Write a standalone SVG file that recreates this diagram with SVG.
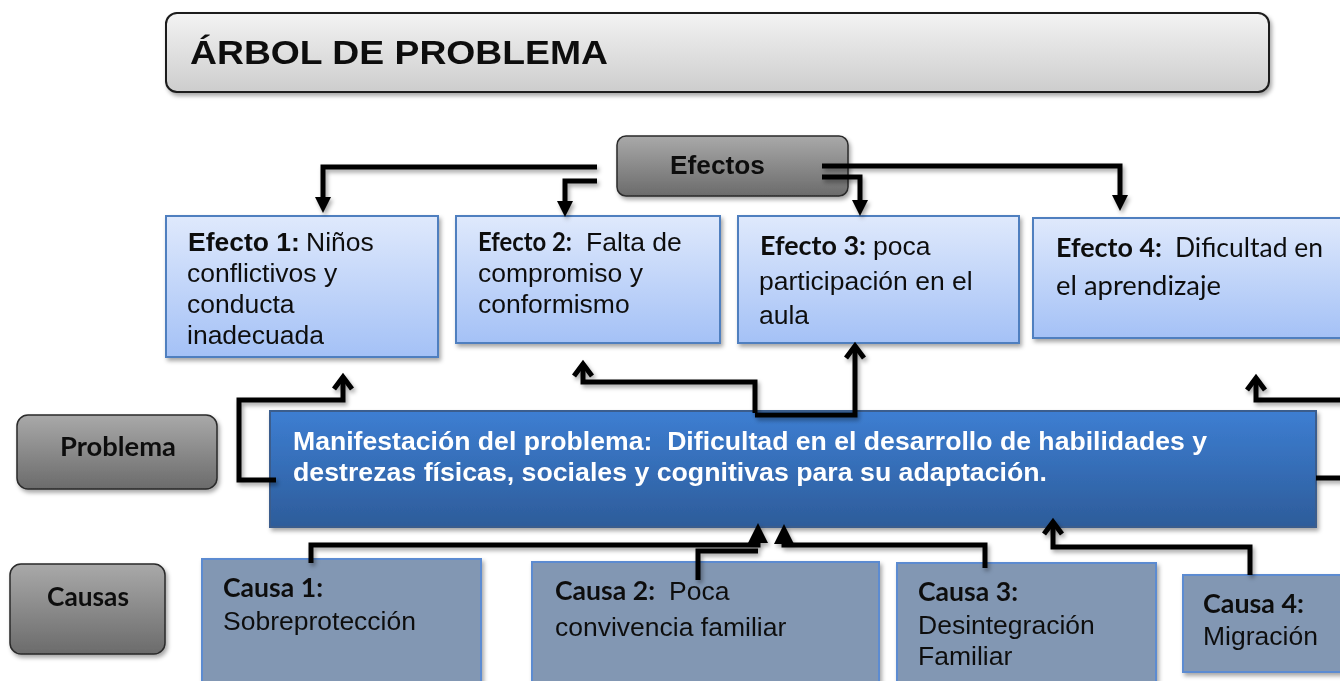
<svg xmlns="http://www.w3.org/2000/svg" width="1340" height="681" viewBox="0 0 1340 681">
<defs>
<linearGradient id="gTitle" x1="0" y1="0" x2="0" y2="1"><stop offset="0" stop-color="#f3f3f3"/><stop offset="1" stop-color="#cdcdcd"/></linearGradient>
<linearGradient id="gGray" x1="0" y1="0" x2="0" y2="1"><stop offset="0" stop-color="#a9a9a9"/><stop offset="1" stop-color="#6b6b6b"/></linearGradient>
<linearGradient id="gEff" x1="0" y1="0" x2="0" y2="1"><stop offset="0" stop-color="#dfe9fc"/><stop offset="1" stop-color="#a4c1f6"/></linearGradient>
<linearGradient id="gProb" x1="0" y1="0" x2="0" y2="1"><stop offset="0" stop-color="#3d7ed2"/><stop offset="1" stop-color="#2d5c9a"/></linearGradient>
<filter id="sh" x="-10%" y="-10%" width="130%" height="140%"><feDropShadow dx="2" dy="3" stdDeviation="2" flood-color="#000" flood-opacity="0.35"/></filter>
<marker id="aDown" markerUnits="userSpaceOnUse" viewBox="0 -10 20 20" refX="0" refY="0" markerWidth="20" markerHeight="20" orient="auto"><path d="M0,-8 L16,0 L0,8 z" fill="#000"/></marker>
<marker id="aUp" markerUnits="userSpaceOnUse" viewBox="-20 -14 28 28" refX="0" refY="0" markerWidth="28" markerHeight="28" orient="auto"><path d="M-12,-9 L0,0 L-12,9" fill="none" stroke="#000" stroke-width="5"/></marker>
<marker id="aFill" markerUnits="userSpaceOnUse" viewBox="0 -12 24 24" refX="0" refY="0" markerWidth="24" markerHeight="24" orient="auto"><path d="M0,-10 L20,0 L0,10 z" fill="#000"/></marker>
</defs>
<style>
.box{filter:url(#sh)}
.title{fill:url(#gTitle);stroke:#1a1a1a;stroke-width:2}
.gray{fill:url(#gGray);stroke:#2a2a2a;stroke-width:1.5}
.eff{fill:url(#gEff);stroke:#4f7fbf;stroke-width:2}
.prob{fill:url(#gProb);stroke:#3a5d8d;stroke-width:2}
.cause{fill:#8297b3;stroke:#5b8bd1;stroke-width:2}
.ar{font-family:"Liberation Sans",Arial,sans-serif;font-size:26.5px;fill:#111}
.ab{font-family:"Liberation Sans",Arial,sans-serif;font-weight:700;font-size:26.5px;fill:#111}
.cb{font-family:Lato,"Open Sans",sans-serif;font-weight:700;font-size:27px;fill:#111}
.cr{font-family:Lato,"Open Sans",sans-serif;font-size:26px;fill:#111}
.pt{font-family:"Liberation Sans",Arial,sans-serif;font-weight:700;font-size:25px;fill:#fff;white-space:pre}
.conn path{fill:none;stroke:#000;stroke-width:5;stroke-linejoin:miter}
</style>
<rect width="1340" height="681" fill="#fff"/>

<g id="title" class="box">
<rect class="title" x="166" y="13" width="1103" height="79" rx="11"/>
<text x="190" y="64" font-family="Liberation Sans, Arial, sans-serif" font-weight="700" font-size="34" fill="#111" textLength="418" lengthAdjust="spacingAndGlyphs">ÁRBOL DE PROBLEMA</text>
</g>

<g id="efectos" class="box">
<rect class="gray" x="617" y="136" width="231" height="60" rx="9"/>
<text x="670" y="174" font-family="Liberation Sans, Arial, sans-serif" font-weight="700" font-size="25" fill="#111" textLength="95" lengthAdjust="spacingAndGlyphs">Efectos</text>
</g>

<g id="efecto1" class="box">
<rect class="eff" x="166" y="216" width="272" height="141"/>
<text class="ab" x="188" y="251">Efecto 1:</text>
<text class="ar" x="306" y="251">Niños</text>
<text class="ar" x="187" y="282">conflictivos y</text>
<text class="ar" x="187" y="313">conducta</text>
<text class="ar" x="187" y="344">inadecuada</text>
</g>

<g id="efecto2" class="box">
<rect class="eff" x="456" y="216" width="264" height="127"/>
<text class="cb" x="478" y="251" font-size="22" textLength="94" lengthAdjust="spacingAndGlyphs">Efecto 2:</text>
<text class="ar" x="586" y="251">Falta de</text>
<text class="ar" x="478" y="282">compromiso y</text>
<text class="ar" x="478" y="313">conformismo</text>
</g>

<g id="efecto3" class="box">
<rect class="eff" x="738" y="216" width="281" height="127"/>
<text class="cb" x="760" y="255" textLength="106" lengthAdjust="spacingAndGlyphs">Efecto 3:</text>
<text class="ar" x="873" y="255">poca</text>
<text class="ar" x="759" y="290">participación en el</text>
<text class="ar" x="759" y="324">aula</text>
</g>

<g id="efecto4" class="box">
<rect class="eff" x="1033" y="218" width="320" height="120"/>
<text class="cb" x="1056" y="257" textLength="106" lengthAdjust="spacingAndGlyphs">Efecto 4:</text>
<text class="cr" x="1175" y="257" textLength="148" lengthAdjust="spacingAndGlyphs">Dificultad en</text>
<text class="cr" x="1056" y="295" textLength="165" lengthAdjust="spacingAndGlyphs">el aprendizaje</text>
</g>

<g id="problema-label" class="box">
<rect class="gray" x="17" y="415" width="200" height="74" rx="11"/>
<text class="cb" x="60" y="456" font-size="25" textLength="116" lengthAdjust="spacingAndGlyphs">Problema</text>
</g>

<g id="problema" class="box">
<rect class="prob" x="270" y="411" width="1046" height="116"/>
<text class="pt" x="293" y="450" textLength="914" lengthAdjust="spacingAndGlyphs">Manifestación del problema:  Dificultad en el desarrollo de habilidades y</text>
<text class="pt" x="293" y="481" textLength="754" lengthAdjust="spacingAndGlyphs">destrezas físicas, sociales y cognitivas para su adaptación.</text>
</g>

<g id="causas-label" class="box">
<rect class="gray" x="10" y="564" width="155" height="90" rx="11"/>
<text class="cb" x="47" y="606" font-size="25" textLength="82" lengthAdjust="spacingAndGlyphs">Causas</text>
</g>

<g id="causa1" class="box">
<rect class="cause" x="202" y="559" width="279" height="130"/>
<text class="cb" x="223" y="597" textLength="100" lengthAdjust="spacingAndGlyphs">Causa 1:</text>
<text class="ar" x="223" y="630">Sobreprotección</text>
</g>

<g id="causa2" class="box">
<rect class="cause" x="532" y="562" width="347" height="127"/>
<text class="cb" x="555" y="600" textLength="100" lengthAdjust="spacingAndGlyphs">Causa 2:</text>
<text class="ar" x="669" y="600">Poca</text>
<text class="ar" x="555" y="636">convivencia familiar</text>
</g>

<g id="causa3" class="box">
<rect class="cause" x="897" y="563" width="259" height="126"/>
<text class="cb" x="918" y="601" textLength="100" lengthAdjust="spacingAndGlyphs">Causa 3:</text>
<text class="ar" x="918" y="634">Desintegración</text>
<text class="ar" x="918" y="665">Familiar</text>
</g>

<g id="causa4" class="box">
<rect class="cause" x="1183" y="575" width="170" height="97"/>
<text class="cb" x="1203" y="613" textLength="101" lengthAdjust="spacingAndGlyphs">Causa 4:</text>
<text class="ar" x="1203" y="645">Migración</text>
</g>

<g id="connectors" class="conn box">
<path d="M597,167 H323 V197" marker-end="url(#aDown)"/>
<path d="M597,181 H565 V201" marker-end="url(#aDown)"/>
<path d="M822,166 H1120 V195" marker-end="url(#aDown)"/>
<path d="M822,177 H860 V200" marker-end="url(#aDown)"/>
<path d="M276,480 H239 V400 H343 V377" marker-end="url(#aUp)"/>
<path d="M755,413 V382 H583 V364" marker-end="url(#aUp)"/>
<path d="M755,415 H855 V346" marker-end="url(#aUp)"/>
<path d="M1316,478 H1345"/>
<path d="M1345,400 H1256 V378" marker-end="url(#aUp)"/>
<path d="M311,563 V545 H758 V543" marker-end="url(#aFill)"/>
<path d="M698,580 V551 H758"/>
<path d="M985,568 V545 H784 V544" marker-end="url(#aFill)"/>
<path d="M1250,575 V547 H1053 V522" marker-end="url(#aUp)"/>
</g>
</svg>
